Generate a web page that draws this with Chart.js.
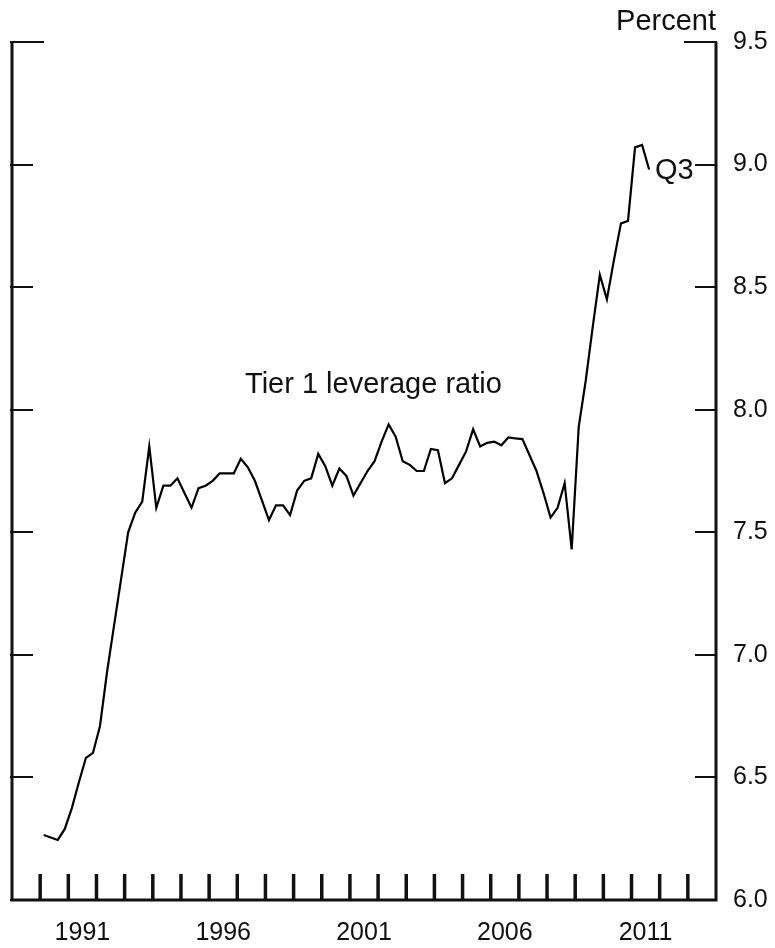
<!DOCTYPE html>
<html>
<head>
<meta charset="utf-8">
<title>Tier 1 leverage ratio</title>
<script src="https://cdn.jsdelivr.net/npm/chart.js@4/dist/chart.umd.min.js"></script>
<style>
    body { margin: 0; background: #fff; }
    canvas { display: block; }
</style>
</head>
<body>
<canvas id="leverageChart" width="775" height="948"></canvas>
<script>
// Quarterly series, starting 1990 Q1, ending 2011 Q3
const firstYear = 1990;
const ratio = [
    6.265, 6.255, 6.245, 6.29,   // 1990
    6.375, 6.48, 6.58, 6.60,     // 1991
    6.71, 6.93, 7.12, 7.31,      // 1992
    7.50, 7.58, 7.625, 7.85,     // 1993
    7.60, 7.69, 7.69, 7.72,      // 1994
    7.66, 7.60, 7.68, 7.69,      // 1995
    7.71, 7.74, 7.74, 7.74,      // 1996
    7.80, 7.765, 7.71, 7.63,     // 1997
    7.55, 7.61, 7.61, 7.57,      // 1998
    7.67, 7.71, 7.72, 7.82,      // 1999
    7.77, 7.69, 7.76, 7.73,      // 2000
    7.65, 7.70, 7.75, 7.79,      // 2001
    7.87, 7.94, 7.89, 7.79,      // 2002
    7.775, 7.75, 7.75, 7.84,     // 2003
    7.835, 7.70, 7.72, 7.775,    // 2004
    7.83, 7.92, 7.85, 7.865,     // 2005
    7.87, 7.855, 7.887, 7.883,   // 2006
    7.88, 7.815, 7.75, 7.66,     // 2007
    7.56, 7.60, 7.70, 7.43,      // 2008
    7.93, 8.12, 8.34, 8.55,      // 2009
    8.45, 8.61, 8.76, 8.77,      // 2010
    9.07, 9.08, 8.98             // 2011
];

// Axis settings
const xMin = 1989;
const xMax = 2014;
const yearLabels = ['1991', '1996', '2001', '2006', '2011'];
const yTicks = [6.0, 6.5, 7.0, 7.5, 8.0, 8.5, 9.0, 9.5];

const FONT = '"Liberation Sans", Arial, sans-serif';
const INK = '#111';

// Each quarter sits in the middle of its slot in the year
const points = ratio.map((v, i) => ({ x: firstYear + (i + 0.5) / 4, y: v }));

// Draws the frame with inward ticks, tick labels and notes
const framePlugin = {
    id: 'frame',
    afterDraw(chart) {
        const { ctx, chartArea: area, scales } = chart;
        const xs = scales.x;
        const ys = scales.y;

        ctx.save();
        ctx.strokeStyle = INK;
        ctx.lineCap = 'butt';

        // Left, bottom and right axis lines
        ctx.lineWidth = 3;
        ctx.beginPath();
        ctx.moveTo(area.left, area.top);
        ctx.lineTo(area.left, area.bottom);
        ctx.lineTo(area.right, area.bottom);
        ctx.lineTo(area.right, area.top);
        ctx.stroke();

        // Y ticks on both sides, pointing inward
        ctx.lineWidth = 2;
        yTicks.forEach(t => {
            const y = Math.round(ys.getPixelForValue(t));
            const len = t === 9.5 ? 32 : 21;
            ctx.beginPath();
            ctx.moveTo(area.left - 2, y);
            ctx.lineTo(area.left + len, y);
            ctx.moveTo(area.right + 1, y);
            ctx.lineTo(area.right - len, y);
            ctx.stroke();
        });

        // Year ticks along the bottom
        ctx.lineWidth = 3.5;
        for (let yr = xMin + 1; yr < xMax; yr++) {
            const x = xs.getPixelForValue(yr);
            ctx.beginPath();
            ctx.moveTo(x, area.bottom);
            ctx.lineTo(x, area.bottom - 26);
            ctx.stroke();
        }

        ctx.fillStyle = INK;

        // Y tick labels on the right
        ctx.font = '25px ' + FONT;
        ctx.textAlign = 'left';
        ctx.textBaseline = 'middle';
        yTicks.forEach(t => {
            ctx.fillText(t.toFixed(1), area.right + 17, ys.getPixelForValue(t));
        });

        // Year labels, centred inside each year
        ctx.textAlign = 'center';
        yearLabels.forEach(lbl => {
            ctx.fillText(lbl, xs.getPixelForValue(Number(lbl) + 0.5), area.bottom + 33);
        });

        // Unit and series notes
        ctx.font = '29px ' + FONT;
        ctx.textAlign = 'right';
        ctx.textBaseline = 'alphabetic';
        ctx.fillText('Percent', area.right, 30);

        ctx.textAlign = 'left';
        ctx.fillText('Tier 1 leverage ratio', 245, 393);

        ctx.textBaseline = 'middle';
        ctx.fillText('Q3', 655, 171);

        ctx.restore();
    }
};

Chart.defaults.animation = false;

new Chart(document.getElementById('leverageChart').getContext('2d'), {
    type: 'line',
    data: {
        datasets: [{
            label: 'Tier 1 leverage ratio',
            data: points,
            borderColor: '#000',
            borderWidth: 2.2,
            pointRadius: 0,
            tension: 0,
            fill: false
        }]
    },
    options: {
        responsive: false,
        layout: {
            padding: { left: 12, right: 59, top: 42, bottom: 48 }
        },
        plugins: {
            legend: { display: false },
            tooltip: { enabled: false }
        },
        scales: {
            x: { type: 'linear', min: xMin, max: xMax, display: false },
            y: { type: 'linear', min: 6, max: 9.5, display: false }
        }
    },
    plugins: [framePlugin]
});
</script>
</body>
</html>
